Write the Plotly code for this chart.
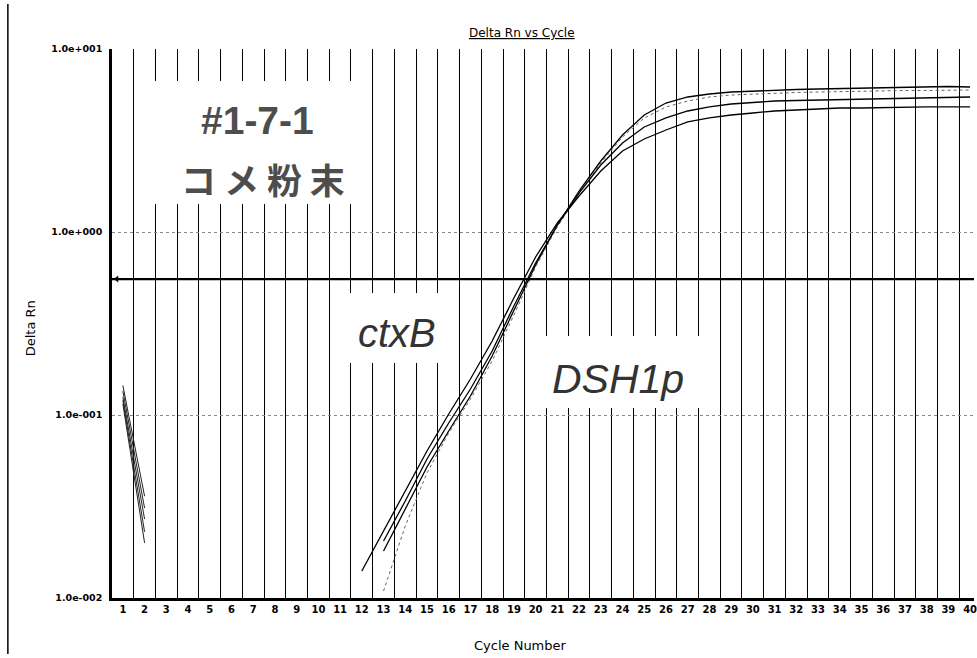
import plotly.graph_objects as go

# ---------------- data ----------------
cycle_ticks = list(range(1, 41))
x_tick_labels = [str(c) for c in cycle_ticks]

y_tick_vals = [0.01, 0.1, 1, 10]
y_tick_text = ["1.0e-002", "1.0e-001", "1.0e+000", "1.0e+001"]

# early (cycle 1-2) baseline segments
cycles_early = [1, 2]
early_1 = [0.145, 0.036]
early_2 = [0.135, 0.031]
early_3 = [0.125, 0.027]
early_4 = [0.120, 0.023]
early_5 = [0.115, 0.020]

# amplification curves
cycles_abc = list(range(13, 41))
curve_a = [0.01806, 0.03064, 0.05196, 0.08177, 0.1270, 0.2101, 0.3701, 0.6601,
           1.092, 1.675, 2.443, 3.389, 4.359, 5.069, 5.467, 5.677, 5.821, 5.895,
           5.970, 6.008, 6.045, 6.084, 6.122, 6.161, 6.199, 6.239, 6.239, 6.199]
curve_b = [0.01092, 0.02474, 0.04822, 0.07972, 0.1223, 0.1973, 0.3519, 0.6436,
           1.065, 1.633, 2.382, 3.304, 4.198, 4.822, 5.197, 5.467, 5.606, 5.677,
           5.749, 5.785, 5.821, 5.858, 5.895, 5.895, 5.932, 5.932, 5.970, 5.970]
curve_c = [0.02049, 0.03389, 0.05749, 0.09045, 0.1387, 0.2237, 0.3940, 0.6769,
           1.092, 1.633, 2.323, 3.064, 3.748, 4.198, 4.584, 4.822, 5.006, 5.102,
           5.197, 5.230, 5.263, 5.296, 5.330, 5.363, 5.397, 5.432, 5.467, 5.467]
cycles_d = list(range(12, 41))
curve_d = [0.01404, 0.02323, 0.03843, 0.06358, 0.1013, 0.1573, 0.2538, 0.4358,
           0.7300, 1.120, 1.573, 2.154, 2.771, 3.222, 3.609, 3.992, 4.198, 4.359,
           4.470, 4.584, 4.642, 4.700, 4.760, 4.760, 4.790, 4.822, 4.822, 4.822, 4.822]

threshold = 0.553
threshold_x = [0.5, 40.5]

# ---------------- figure ----------------
fig = go.Figure()

for ys in [early_1, early_2, early_3, early_4, early_5]:
    fig.add_trace(go.Scatter(x=cycles_early, y=ys, mode="lines",
                             line=dict(color="#222", width=1), hoverinfo="skip"))

fig.add_trace(go.Scatter(x=cycles_abc, y=curve_a, mode="lines",
                         line=dict(color="black", width=1.3), hoverinfo="skip"))
fig.add_trace(go.Scatter(x=cycles_abc, y=curve_b, mode="lines",
                         line=dict(color="#666", width=1, dash="dot"), hoverinfo="skip"))
fig.add_trace(go.Scatter(x=cycles_abc, y=curve_c, mode="lines",
                         line=dict(color="black", width=1.3), hoverinfo="skip"))
fig.add_trace(go.Scatter(x=cycles_d, y=curve_d, mode="lines",
                         line=dict(color="black", width=1.3), hoverinfo="skip"))

fig.add_trace(go.Scatter(x=threshold_x, y=[threshold, threshold], mode="lines",
                         line=dict(color="black", width=2.2), hoverinfo="skip"))
fig.add_trace(go.Scatter(x=[0.72], y=[threshold], mode="markers",
                         marker=dict(symbol="triangle-left", size=6, color="black"),
                         hoverinfo="skip"))

grid_x = [c + 0.5 for c in range(1, 40)]

fig.update_layout(
    width=977, height=658,
    margin=dict(l=112, r=0, t=49, b=60),
    paper_bgcolor="white", plot_bgcolor="white",
    showlegend=False,
    xaxis=dict(
        range=[0.5, 40.18],
        tickmode="array", tickvals=cycle_ticks, ticktext=x_tick_labels,
        showgrid=False, zeroline=False,
        showline=True, linecolor="black", linewidth=2.5,
        ticks="", ticklabeloverflow="allow",
        tickfont=dict(family="DejaVu Sans", size=10, color="black", weight="bold"),
        minor=dict(tickmode="array", tickvals=grid_x, showgrid=True,
                   gridcolor="black", gridwidth=1.3, ticks=""),
    ),
    yaxis=dict(
        type="log", range=[-2, 1],
        tickmode="array", tickvals=y_tick_vals, ticktext=y_tick_text,
        showgrid=True, gridcolor="#888", griddash="dot", gridwidth=1,
        zeroline=False,
        showline=True, linecolor="black", linewidth=2.5,
        ticks="", ticklabelstandoff=5,
        tickfont=dict(family="DejaVu Sans", size=9.5, color="black", weight="bold"),
    ),
)

# white label boxes (cover grid lines)
boxes = [
    (0.0382, 0.2925, 0.7177, 0.9417),
    (0.2659, 0.3908, 0.4281, 0.5556),
    (0.4913, 0.6936, 0.3461, 0.4772),
]
for x0, x1, y0, y1 in boxes:
    fig.add_shape(type="rect", xref="paper", yref="paper", x0=x0, x1=x1, y0=y0, y1=y1,
                  fillcolor="white", line=dict(width=0), layer="above")

# left frame line
fig.add_shape(type="line", xref="paper", yref="paper", x0=-0.1208, x1=-0.1208,
              y0=-0.102, y1=1.082, line=dict(color="black", width=1.5))

fig.add_annotation(xref="paper", yref="paper", x=0.1688, y=0.8689, showarrow=False,
                   text="<b>#1-7-1</b>",
                   font=dict(family="Liberation Sans", size=39, color="#4d4d4d"),
                   xanchor="center", yanchor="middle")
fig.add_annotation(xref="paper", yref="paper", x=0.1757, y=0.765, showarrow=False,
                   text="コ メ 粉 末",
                   font=dict(family="Noto Sans CJK JP", size=35, color="#4d4d4d", weight="bold"),
                   xanchor="center", yanchor="middle")
fig.add_annotation(xref="paper", yref="paper", x=0.3306, y=0.4827, showarrow=False,
                   text="<i>ctxB</i>", font=dict(family="Liberation Sans", size=40, color="#333"),
                   xanchor="center", yanchor="middle")
fig.add_annotation(xref="paper", yref="paper", x=0.5873, y=0.3989, showarrow=False,
                   text="<i>DSH1p</i>", font=dict(family="Liberation Sans", size=41, color="#333"),
                   xanchor="center", yanchor="middle")

# titles
fig.add_annotation(xref="paper", yref="paper", x=0.4751, y=1.029, showarrow=False,
                   text="<u>Delta Rn vs Cycle</u>",
                   font=dict(family="DejaVu Sans", size=12, color="black"),
                   xanchor="center", yanchor="middle")
fig.add_annotation(xref="paper", yref="paper", x=0.474, y=-0.0874, showarrow=False,
                   text="Cycle Number",
                   font=dict(family="DejaVu Sans", size=13, color="black"),
                   xanchor="center", yanchor="middle")
fig.add_annotation(xref="paper", yref="paper", x=-0.0948, y=0.4918, showarrow=False,
                   text="Delta Rn", textangle=-90,
                   font=dict(family="DejaVu Sans", size=13, color="black"),
                   xanchor="center", yanchor="middle")

fig.write_html("out.html")
